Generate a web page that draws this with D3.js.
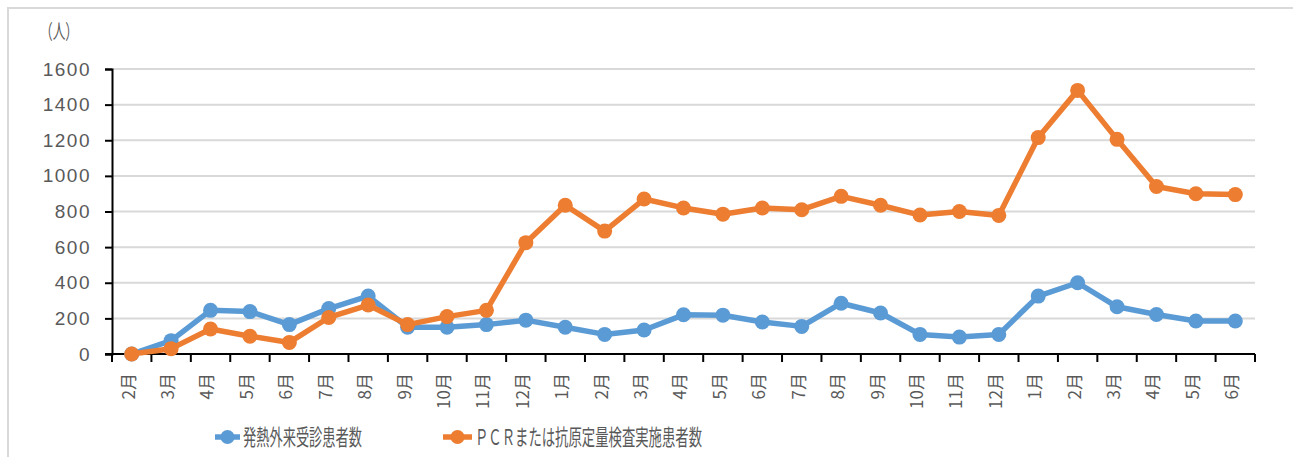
<!DOCTYPE html>
<html>
<head>
<meta charset="utf-8">
<script src="https://cdn.jsdelivr.net/npm/d3@7"></script>
<style>
  body { margin: 0; background: #fff; }
  svg { display: block; }
</style>
</head>
<body>
<script>
// months, Feb (year 1) through Jun (year 3)
const months = ['2月', '3月', '4月', '5月', '6月', '7月', '8月', '9月', '10月', '11月', '12月',
  '1月', '2月', '3月', '4月', '5月', '6月', '7月', '8月', '9月', '10月', '11月', '12月',
  '1月', '2月', '3月', '4月', '5月', '6月'];

const feverPatients = [0, 75, 245, 238, 165, 255, 325, 150, 150, 165, 190,
  150, 110, 135, 220, 218, 180, 155, 285, 230, 110, 95, 110,
  325, 400, 265, 222, 185, 185];

const pcrPatients = [0, 30, 140, 100, 65, 205, 275, 165, 210, 245, 625,
  835, 690, 870, 820, 785, 820, 810, 885, 835, 780, 800, 778,
  1215, 1480, 1205, 940, 900, 895];

const yTicks = [0, 200, 400, 600, 800, 1000, 1200, 1400, 1600];

const seriesNames = ['発熱外来受診患者数', 'ＰＣＲまたは抗原定量検査実施患者数'];
const colors = ['#5B9BD5', '#ED7D31'];

const W = 1293, H = 457;
const plotL = 112, plotR = 1255, plotT = 69, plotB = 354;
const textColor = '#595959';

const svg = d3.select('body').append('svg')
  .attr('width', W)
  .attr('height', H);

// chart area frame (only top/left edges visible in the crop)
svg.append('rect')
  .attr('x', 8).attr('y', 8)
  .attr('width', W + 20).attr('height', H + 20)
  .attr('fill', 'none')
  .attr('stroke', '#d9d9d9')
  .attr('stroke-width', 2);

const idx = months.map((m, i) => i);

const x = d3.scaleBand()
  .domain(idx)
  .range([plotL, plotR])
  .padding(0);

const y = d3.scaleLinear()
  .domain([0, 1600])
  .range([plotB, plotT]);

const cx = i => x(i) + x.bandwidth() / 2;

// gridlines
svg.append('g')
  .selectAll('line')
  .data(yTicks.filter(d => d > 0))
  .join('line')
  .attr('x1', plotL).attr('x2', plotR)
  .attr('y1', d => y(d)).attr('y2', d => y(d))
  .attr('stroke', '#d9d9d9')
  .attr('stroke-width', 2);

// y axis
const yAxis = svg.append('g')
  .attr('transform', `translate(${plotL},0)`)
  .call(d3.axisLeft(y).tickValues(yTicks).tickSize(7).tickPadding(14).tickFormat(d3.format('d')));
yAxis.select('.domain').attr('stroke', '#000').attr('stroke-width', 2);
yAxis.selectAll('.tick line').attr('stroke', '#000').attr('stroke-width', 2);
yAxis.selectAll('.tick text')
  .attr('fill', textColor)
  .style('font-family', '"Liberation Sans", Arial, sans-serif')
  .style('font-size', '19px')
  .style('letter-spacing', '1.5px');

// x axis with ticks at category boundaries
svg.append('line')
  .attr('x1', plotL - 7).attr('x2', plotR)
  .attr('y1', plotB).attr('y2', plotB)
  .attr('stroke', '#000').attr('stroke-width', 2);

svg.append('g')
  .selectAll('line')
  .data(idx.concat([months.length]))
  .join('line')
  .attr('x1', d => d < months.length ? x(d) : plotR)
  .attr('x2', d => d < months.length ? x(d) : plotR)
  .attr('y1', plotB).attr('y2', plotB + 8)
  .attr('stroke', '#000').attr('stroke-width', 2);

svg.append('g')
  .selectAll('text')
  .data(idx)
  .join('text')
  .attr('transform', d => `translate(${cx(d) - 3},${plotB + 19}) rotate(-90)`)
  .attr('text-anchor', 'end')
  .attr('dy', '0.35em')
  .attr('fill', textColor)
  .style('font-family', '"Noto Sans CJK JP", sans-serif')
  .style('font-size', '17px')
  .text(d => months[d]);

// unit label
svg.append('text')
  .attr('x', 40).attr('y', 39)
  .attr('textLength', 38)
  .attr('lengthAdjust', 'spacingAndGlyphs')
  .attr('fill', textColor)
  .style('font-family', '"Noto Sans CJK JP", sans-serif')
  .style('font-size', '20px')
  .text('（人）');

// series
const allSeries = [feverPatients, pcrPatients];
const line = d3.line()
  .x((d, i) => cx(i))
  .y(d => y(d));

allSeries.forEach((vals, s) => {
  const g = svg.append('g');
  g.append('path')
    .datum(vals)
    .attr('d', line)
    .attr('fill', 'none')
    .attr('stroke', colors[s])
    .attr('stroke-width', 5.5)
    .attr('stroke-linejoin', 'round');
  g.selectAll('circle')
    .data(vals)
    .join('circle')
    .attr('cx', (d, i) => cx(i))
    .attr('cy', d => y(d))
    .attr('r', 7.5)
    .attr('fill', colors[s]);
});

// legend
const legend = [
  { x: 215, tx: 243, len: 119 },
  { x: 443, tx: 475, len: 227 }
];
legend.forEach((l, i) => {
  const g = svg.append('g');
  g.append('line')
    .attr('x1', l.x).attr('x2', l.tx - 3)
    .attr('y1', 437).attr('y2', 437)
    .attr('stroke', colors[i])
    .attr('stroke-width', 5.5);
  g.append('circle')
    .attr('cx', (l.x + l.tx - 3) / 2)
    .attr('cy', 437)
    .attr('r', 7)
    .attr('fill', colors[i]);
  g.append('text')
    .attr('x', l.tx).attr('y', 445)
    .attr('textLength', l.len)
    .attr('lengthAdjust', 'spacingAndGlyphs')
    .attr('fill', textColor)
    .style('font-family', '"Noto Sans CJK JP", sans-serif')
    .style('font-size', '22px')
    .text(seriesNames[i]);
});
</script>
</body>
</html>
